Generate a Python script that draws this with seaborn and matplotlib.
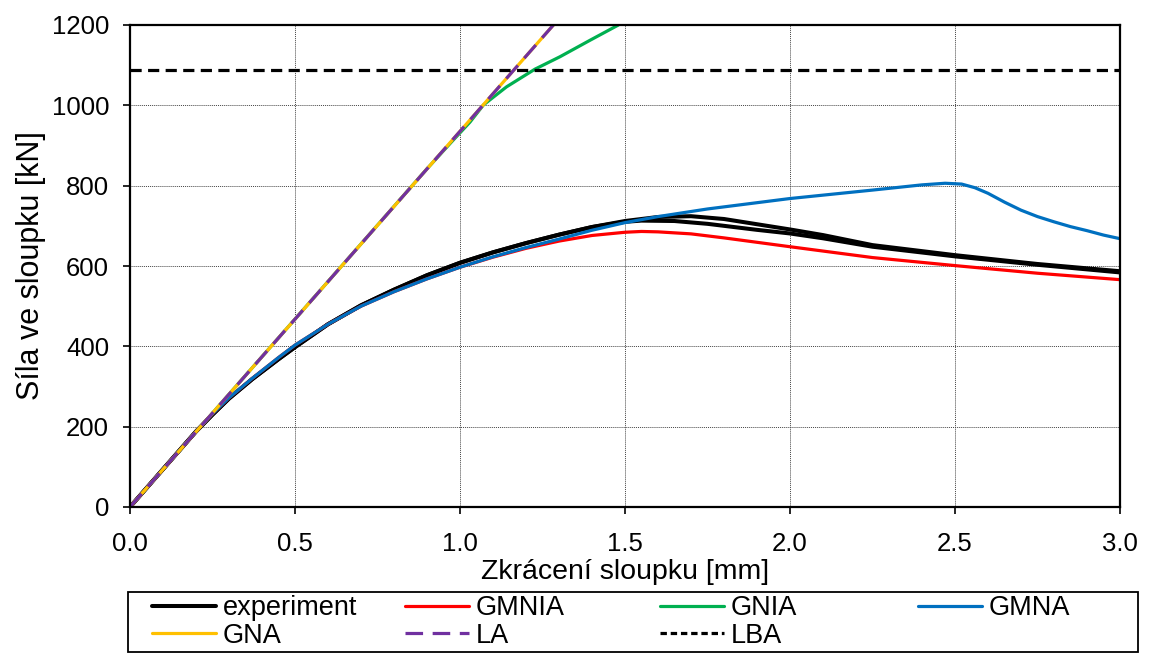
import matplotlib
matplotlib.use("Agg")
import matplotlib.pyplot as plt
from matplotlib.lines import Line2D
from matplotlib.patches import Rectangle
import seaborn as sns
import pandas as pd

# --- data (shortening [mm] vs force [kN]) ---
exp1_x = [0, 0.1, 0.2, 0.25, 0.3, 0.37, 0.45, 0.5, 0.6, 0.7, 0.8, 0.9, 1.0, 1.1, 1.2, 1.3, 1.4,
          1.5, 1.6, 1.7, 1.8, 1.9, 2.0, 2.1, 2.25, 2.5, 2.75, 3.0]
exp1_y = [0, 94, 188, 230, 270, 318, 368, 398, 455, 502, 541, 577, 608, 634, 657, 678, 697,
          712, 722, 724, 717, 704, 691, 677, 652, 627, 605, 587]
exp2_x = [0, 0.1, 0.2, 0.25, 0.3, 0.37, 0.45, 0.5, 0.6, 0.7, 0.8, 0.9, 1.0, 1.1, 1.2, 1.3, 1.4,
          1.5, 1.55, 1.65, 1.75, 1.9, 2.0, 2.1, 2.25, 2.5, 2.75, 3.0]
exp2_y = [0, 94, 188, 230, 270, 318, 368, 398, 455, 502, 541, 577, 608, 634, 657, 678, 697,
          710, 713, 712, 705, 690, 681, 669, 648, 624, 603, 584]

gmna_x = [0, 0.1, 0.2, 0.25, 0.3, 0.37, 0.45, 0.5, 0.6, 0.7, 0.8, 0.9, 1.0, 1.1, 1.2, 1.3, 1.4,
          1.5, 1.6, 1.75, 2.0, 2.25, 2.4, 2.47, 2.52, 2.56, 2.6, 2.65, 2.7, 2.75, 2.8, 2.85,
          2.9, 2.95, 3.0]
gmna_y = [0, 94, 188, 232, 272, 320, 372, 403, 455, 500, 536, 568, 597, 623, 646, 667, 689,
          708, 723, 742, 768, 789, 802, 806, 804, 795, 781, 759, 739, 723, 710, 698,
          688, 677, 668]

gmnia_x = [0, 0.1, 0.2, 0.25, 0.3, 0.37, 0.45, 0.5, 0.6, 0.7, 0.8, 0.9, 1.0, 1.1, 1.2, 1.3, 1.4,
           1.5, 1.55, 1.6, 1.7, 1.8, 1.9, 2.0, 2.25, 2.5, 2.75, 3.0]
gmnia_y = [0, 94, 188, 232, 272, 320, 372, 403, 455, 500, 536, 568, 597, 622, 644, 662, 676,
           684, 686, 685, 680, 670, 659, 648, 621, 601, 582, 566]

gnia_x = [0, 0.9, 0.98, 1.03, 1.071, 1.141, 1.227, 1.303, 1.394, 1.48]
gnia_y = [0, 842, 914, 958, 1001, 1046, 1090, 1121, 1162, 1200]

gna_x = [0, 1.283]
gna_y = [0, 1200]
la_x = [0, 1.283]
la_y = [0, 1200]

lba_x = [0, 3.0]
lba_y = [1089, 1089]

x_ticks = [0.0, 0.5, 1.0, 1.5, 2.0, 2.5, 3.0]
y_ticks = [0, 200, 400, 600, 800, 1000, 1200]

C_EXP = "#000000"
C_GMNIA = "#FF0000"
C_GNIA = "#00B050"
C_GMNA = "#0070C0"
C_GNA = "#FFC000"
C_LA = "#7030A0"
LA_DASH = (0, (5.5, 3))
LBA_DASH = (0, (3.5, 2))

sns.set_theme(style="white")
plt.rcParams["font.family"] = ["Liberation Sans", "DejaVu Sans"]
plt.rcParams.update({"text.color": "black", "axes.labelcolor": "black",
                     "xtick.color": "black", "ytick.color": "black"})

fig = plt.figure(figsize=(11.5, 6.53), dpi=100)
ax = fig.add_axes([130 / 1150, 1 - 507 / 653, 990 / 1150, 482 / 653])

# drawing order follows the reference (which line sits on top)
series = [
    (gnia_x, gnia_y, C_GNIA, 2.3, "-"),
    (exp1_x, exp1_y, C_EXP, 2.9, "-"),
    (exp2_x, exp2_y, C_EXP, 2.9, "-"),
    (gmnia_x, gmnia_y, C_GMNIA, 2.3, "-"),
    (gmna_x, gmna_y, C_GMNA, 2.3, "-"),
    (gna_x, gna_y, C_GNA, 2.3, "-"),
    (la_x, la_y, C_LA, 2.3, LA_DASH),
    (lba_x, lba_y, C_EXP, 2.3, LBA_DASH),
]
for xs, ys, col, lw, ls in series:
    df = pd.DataFrame({"x": xs, "y": ys})
    sns.lineplot(data=df, x="x", y="y", ax=ax, color=col, linewidth=lw,
                 linestyle=ls, sort=False, estimator=None, legend=False)

ax.set_xlim(0, 3.0)
ax.set_ylim(0, 1200)
ax.set_xticks(x_ticks)
ax.set_yticks(y_ticks)
ax.set_xticklabels([f"{v:.1f}" for v in x_ticks], fontsize=18.5)
ax.set_yticklabels([str(v) for v in y_ticks], fontsize=18.5)
ax.grid(True, color="#444444", linestyle=(0, (1, 1)), linewidth=0.7)
ax.tick_params(axis="both", direction="out", length=5, width=1.2, color="black",
               bottom=True, left=True)
ax.tick_params(axis="x", pad=13)
ax.tick_params(axis="y", pad=10)
for side in ["left", "right", "top", "bottom"]:
    ax.spines[side].set_color("black")
    ax.spines[side].set_linewidth(1.6)

ax.set_xlabel("Zkrácení sloupku [mm]", fontsize=20.5, labelpad=2)
ax.set_ylabel("Síla ve sloupku [kN]", fontsize=22, labelpad=4)

# legend: four columns placed like the Excel legend, with one frame around them
def handle(col, ls, lw=2.3):
    return Line2D([], [], color=col, linestyle=ls, linewidth=lw)

columns = [
    (152, [(handle(C_EXP, "-", 2.9), "experiment"), (handle(C_GNA, "-"), "GNA")]),
    (405, [(handle(C_GMNIA, "-"), "GMNIA"), (handle(C_LA, LA_DASH), "LA")]),
    (660, [(handle(C_GNIA, "-"), "GNIA"), (handle(C_EXP, (0, (2, 1.2))), "LBA")]),
    (918, [(handle(C_GMNA, "-"), "GMNA")]),
]
for xpix, items in columns:
    fig.legend([h for h, _ in items], [t for _, t in items],
               loc="upper left", bbox_to_anchor=(xpix / 1150, 1 - 595 / 653),
               frameon=False, borderpad=0, borderaxespad=0, handlelength=2.35,
               handletextpad=0.25, labelspacing=0.07, fontsize=19.5)

fig.patches.append(Rectangle((128 / 1150, 1 / 653), 1010 / 1150, 60 / 653,
                             transform=fig.transFigure, fill=False,
                             edgecolor="black", linewidth=1.3))

fig.savefig("out.png", dpi=100)
